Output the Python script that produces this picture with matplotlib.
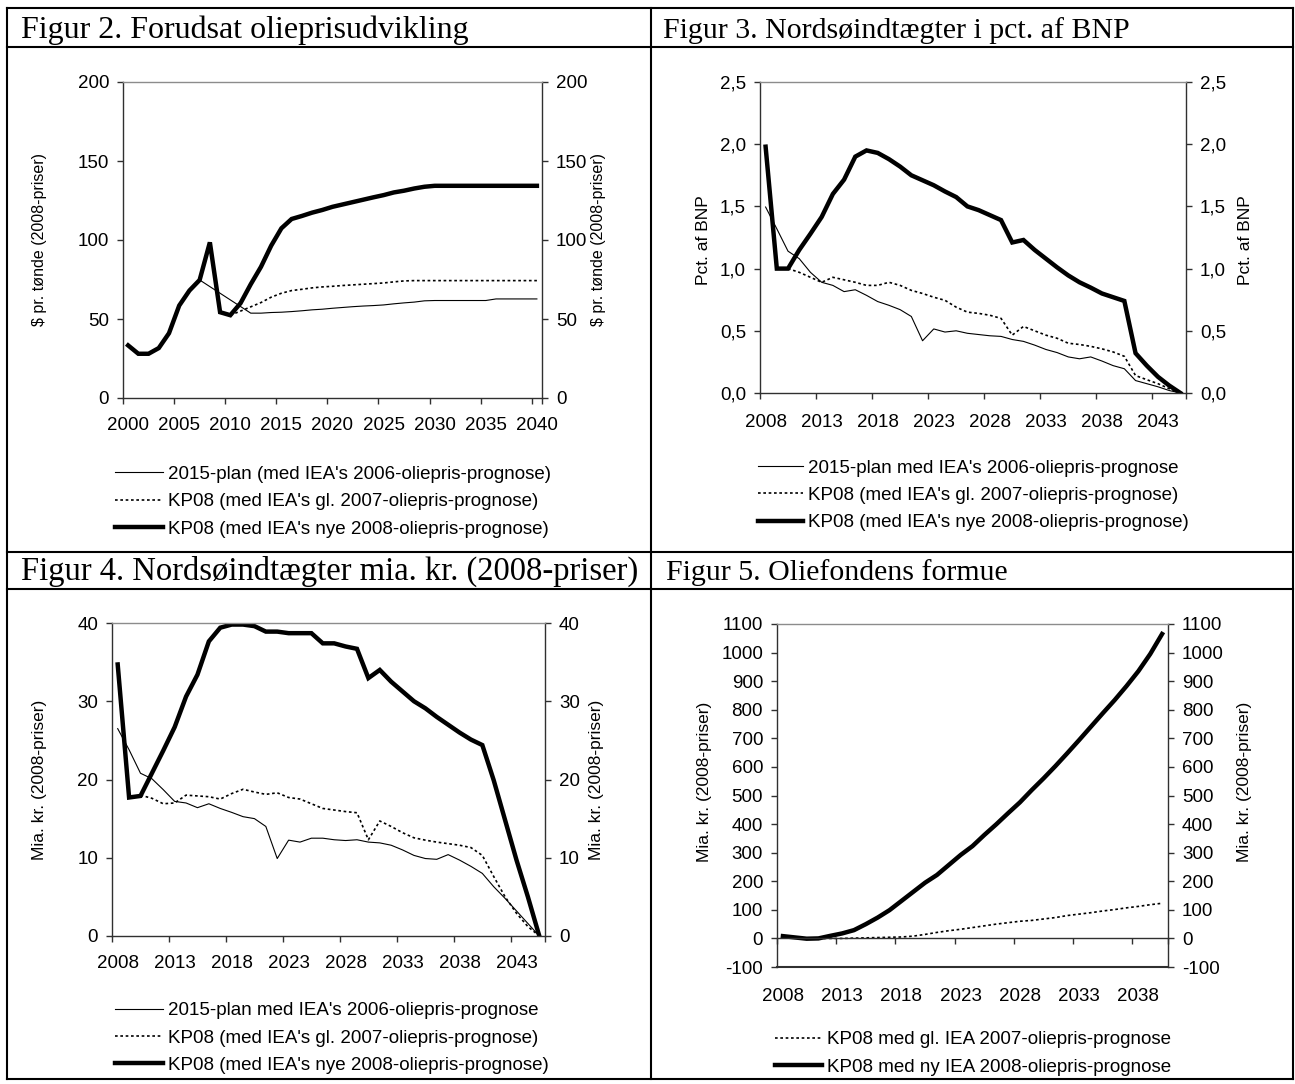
import matplotlib
matplotlib.use('Agg')
import matplotlib.pyplot as plt
from matplotlib.lines import Line2D
import numpy as np

W, H = 1295, 1084
plt.rcParams['font.family'] = ['Liberation Sans', 'DejaVu Sans']

# ---------------- data ----------------
# Figur 2 (oil price, $ per barrel, 2008 prices)
years_f2 = list(range(2000, 2041))
f2_new = [33.3, 28, 28, 31.6, 41, 58.5, 68, 74.7, 98.5, 54.3, 52.4, 60, 72, 83, 96.4,
          107.4, 113.3, 115.2, 117.3, 119, 121, 122.5, 124, 125.5, 127, 128.4, 130.1,
          131.2, 132.6, 133.7] + [134.3] * 11
years_f2_plan = list(range(2007, 2041))
f2_plan = [74.7, 70.5, 66.3, 62.1, 57.9, 53.7, 53.7, 54.1, 54.3, 54.7, 55.2, 55.8, 56.2,
           56.8, 57.3, 57.8, 58.2, 58.5, 58.9, 59.6, 60.2, 60.7, 61.5] + [61.7] * 6 + [62.7] * 5
years_f2_old = list(range(2010, 2041))
f2_old = [52.4, 55, 57.7, 60.4, 63.8, 66.3, 68, 68.8, 69.7, 70.3, 70.7, 71.2, 71.6, 72,
          72.4, 72.8, 73.5, 74.1] + [74.3] * 13

# Figur 3 (pct. of GDP)
years_f3 = list(range(2008, 2046))
f3_new = [1.98, 1.0, 1.0, 1.15, 1.28, 1.415, 1.60, 1.715, 1.90, 1.95, 1.93, 1.88, 1.82,
          1.75, 1.71, 1.67, 1.62, 1.575, 1.50, 1.47, 1.43, 1.39, 1.21, 1.23, 1.15, 1.08,
          1.01, 0.945, 0.89, 0.847, 0.80, 0.77, 0.74, 0.32, 0.22, 0.13, 0.06, 0.0]
f3_plan = [1.495, 1.32, 1.14, 1.08, 0.97, 0.89, 0.865, 0.815, 0.83, 0.785, 0.735, 0.705,
           0.67, 0.615, 0.42, 0.515, 0.49, 0.50, 0.48, 0.47, 0.46, 0.455, 0.43, 0.415,
           0.385, 0.35, 0.325, 0.29, 0.275, 0.29, 0.257, 0.22, 0.195, 0.10, 0.075, 0.05,
           0.02, 0.0]
years_f3_old = list(range(2010, 2046))
f3_old = [1.0, 0.97, 0.93, 0.89, 0.93, 0.91, 0.89, 0.865, 0.865, 0.89, 0.865, 0.825, 0.80,
          0.77, 0.745, 0.69, 0.65, 0.64, 0.625, 0.60, 0.465, 0.535, 0.50, 0.465, 0.44, 0.40,
          0.39, 0.375, 0.355, 0.33, 0.295, 0.14, 0.107, 0.075, 0.035, 0.0]

# Figur 4 (bn. DKK, 2008 prices)
years_f4 = list(range(2008, 2046))
f4_new = [34.7, 17.7, 17.9, 20.8, 23.7, 26.7, 30.6, 33.4, 37.65, 39.4, 39.8, 39.8, 39.6,
          38.9, 38.9, 38.7, 38.7, 38.7, 37.4, 37.4, 37.0, 36.7, 32.96, 34.0, 32.5, 31.25,
          30.0, 29.1, 28.0, 27.0, 26.0, 25.1, 24.4, 19.9, 14.8, 9.7, 5.0, 0.0]
f4_plan = [26.5, 23.8, 20.8, 20.1, 18.7, 17.2, 17.0, 16.4, 16.9, 16.3, 15.8, 15.25, 15.0,
           14.0, 9.9, 12.25, 12.0, 12.5, 12.5, 12.3, 12.2, 12.3, 12.0, 11.9, 11.6, 11.0,
           10.3, 9.9, 9.8, 10.4, 9.7, 8.9, 8.0, 6.3, 4.8, 3.2, 1.6, 0.0]
years_f4_old = list(range(2010, 2046))
f4_old = [18.0, 17.6, 16.9, 17.0, 18.0, 17.9, 17.8, 17.5, 18.2, 18.75, 18.4, 18.1, 18.3,
          17.7, 17.5, 16.9, 16.3, 16.1, 15.9, 15.75, 12.3, 14.7, 14.0, 13.2, 12.55, 12.25,
          12.0, 11.8, 11.6, 11.3, 10.3, 7.6, 5.0, 2.9, 1.2, 0.0]

# Figur 5 (oil fund, bn. DKK)
years_f5 = list(range(2008, 2041))
f5_new = [8, 3.5, -1, 0, 9, 17.5, 29, 50, 73, 99, 131, 163, 195, 222, 257, 292, 323, 362,
          399, 438, 476, 519, 560, 603, 648, 694, 741, 788, 834, 883, 935, 995, 1065]
years_f5_old = list(range(2011, 2041))
f5_old = [0, 0, 0, 1, 2, 3, 4, 5, 8, 14, 21, 27, 32, 38, 44, 50, 55, 60, 63, 68, 73, 80,
          85, 90, 96, 101, 107, 112, 118, 123]

# tick labels
yt_f2 = [0, 50, 100, 150, 200]
yt_f3 = [0.0, 0.5, 1.0, 1.5, 2.0, 2.5]
yt_f3_labels = ['0,0', '0,5', '1,0', '1,5', '2,0', '2,5']
yt_f4 = [0, 10, 20, 30, 40]
yt_f5 = list(range(-100, 1101, 100))

lab_plan_a = "2015-plan (med IEA's 2006-oliepris-prognose)"
lab_plan_b = "2015-plan med IEA's 2006-oliepris-prognose"
lab_old = "KP08 (med IEA's gl. 2007-oliepris-prognose)"
lab_new = "KP08 (med IEA's nye 2008-oliepris-prognose)"
lab5_old = "KP08 med gl. IEA 2007-oliepris-prognose"
lab5_new = "KP08 med ny IEA 2008-oliepris-prognose"

# ---------------- figure ----------------
fig = plt.figure(figsize=(W / 100, H / 100), dpi=100)

def fx(x):
    return x / W

def fy(y):
    return 1 - y / H

def axes_px(l, r, t, b):
    return fig.add_axes([fx(l), fy(b), (r - l) / W, (b - t) / H])

TH = 3.2      # thick
TN = 0.8      # thin
DOT = (0, (1.6, 1.6))
FS = 13.5
LFS = 13.5
AXC = '#303030'

def style(ax, first, last, label_years, yt, ytl, ylim, xpad):
    ax.set_xlim(first - 0.5, last + 0.5)
    ax.set_xticks(label_years)
    ax.set_xticklabels([str(y) for y in label_years])
    minor = list(np.arange(first - 0.5, last, 5)) + [last + 0.5]
    ax.set_xticks(minor, minor=True)
    ax.tick_params(axis='x', which='major', length=0, pad=xpad, labelsize=FS)
    ax.tick_params(axis='x', which='minor', length=4, width=1, direction='out', color=AXC)
    ax.set_ylim(*ylim)
    ax.set_yticks(yt)
    ax.set_yticklabels(ytl)
    ax.tick_params(axis='y', which='major', left=True, right=True, labelleft=True,
                   labelright=True, length=4, width=1, direction='out', pad=6,
                   labelsize=FS, color=AXC)
    for s in ['left', 'right', 'bottom']:
        ax.spines[s].set_color(AXC)
        ax.spines[s].set_linewidth(1)
    ax.spines['top'].set_color('#8c8c8c')
    ax.spines['top'].set_linewidth(1)

def legend(ax, handles, labels, x, y, hl):
    ax.legend(handles, labels, loc='center left',
              bbox_to_anchor=(fx(x), fy(y)), bbox_transform=fig.transFigure,
              frameon=False, fontsize=LFS, handlelength=hl, handletextpad=0.27,
              labelspacing=0.55, borderpad=0, borderaxespad=0)

# ---- Figur 2 ----
ax2 = axes_px(123, 542, 82, 398)
h_plan, = ax2.plot(years_f2_plan, f2_plan, color='black', lw=TN)
h_old, = ax2.plot(years_f2_old, f2_old, color='black', lw=1.2, ls=DOT)
h_new, = ax2.plot(years_f2, f2_new, color='black', lw=TH, solid_joinstyle='miter')
style(ax2, 2000, 2040, list(range(2000, 2041, 5)), yt_f2, [str(v) for v in yt_f2],
      (0, 200), 14)
legend(ax2, [h_plan, h_old, h_new], [lab_plan_a, lab_old, lab_new], 115, 501.5, 2.56)

# ---- Figur 3 ----
ax3 = axes_px(760, 1186, 82, 393)
h_plan, = ax3.plot(years_f3, f3_plan, color='black', lw=TN)
h_old, = ax3.plot(years_f3_old, f3_old, color='black', lw=1.2, ls=DOT)
h_new, = ax3.plot(years_f3, f3_new, color='black', lw=TH, solid_joinstyle='miter')
style(ax3, 2008, 2045, list(range(2008, 2044, 5)), yt_f3, yt_f3_labels, (0, 2.5), 15)
legend(ax3, [h_plan, h_old, h_new], [lab_plan_b, lab_old, lab_new], 758, 495.5, 2.4)

# ---- Figur 4 ----
ax4 = axes_px(112, 545, 623, 936)
h_plan, = ax4.plot(years_f4, f4_plan, color='black', lw=TN)
h_old, = ax4.plot(years_f4_old, f4_old, color='black', lw=1.2, ls=DOT)
h_new, = ax4.plot(years_f4, f4_new, color='black', lw=TH, solid_joinstyle='miter')
style(ax4, 2008, 2045, list(range(2008, 2044, 5)), yt_f4, [str(v) for v in yt_f4],
      (0, 40), 13.5)
legend(ax4, [h_plan, h_old, h_new], [lab_plan_b, lab_old, lab_new], 115, 1038, 2.56)

# ---- Figur 5 ----
ax5 = axes_px(777, 1168, 624, 967)
h_old, = ax5.plot(years_f5_old, f5_old, color='black', lw=1.2, ls=DOT)
h_new, = ax5.plot(years_f5, f5_new, color='black', lw=TH, solid_joinstyle='miter')
style(ax5, 2008, 2040, list(range(2008, 2039, 5)), yt_f5, [str(v) for v in yt_f5],
      (-100, 1100), 36)
ax5.spines['bottom'].set_position(('data', 0))
ax5.axhline(-100, color=AXC, lw=1.5, clip_on=False)
legend(ax5, [h_old, h_new], [lab5_old, lab5_new], 775, 1053.5, 2.5)

# ---- y axis labels ----
ylab = [("$ pr. tønde (2008-priser)", 40, 598, 239, 11.5),
        ("Pct. af BNP", 703, 1245, 240, 12.5),
        ("Mia. kr. (2008-priser)", 40, 597, 780, 12.5),
        ("Mia. kr. (2008-priser)", 705, 1245, 782, 12.5)]
for txt, xl, xr, yc, fsz in ylab:
    for xx in (xl, xr):
        fig.text(fx(xx), fy(yc), txt, rotation=90, ha='center', va='center', fontsize=fsz)

# ---- titles ----
TF = dict(family=['Liberation Serif', 'DejaVu Serif'], va='baseline')
fig.text(fx(21), fy(38), "Figur 2. Forudsat olieprisudvikling", fontsize=23, **TF)
fig.text(fx(663), fy(38), "Figur 3. Nordsøindtægter i pct. af BNP", fontsize=21.5, **TF)
fig.text(fx(21), fy(580), "Figur 4. Nordsøindtægter mia. kr. (2008-priser)", fontsize=23.5, **TF)
fig.text(fx(666), fy(580), "Figur 5. Oliefondens formue", fontsize=21.5, **TF)

# ---- table frame ----
LW = 1.5
def hline(y, x0=7, x1=1293):
    fig.add_artist(Line2D([fx(x0), fx(x1)], [fy(y), fy(y)], color='black', lw=LW))

def vline(x, y0=8, y1=1079):
    fig.add_artist(Line2D([fx(x), fx(x)], [fy(y0), fy(y1)], color='black', lw=LW))

for yy in (8, 47, 552, 589, 1079):
    hline(yy)
for xx in (7, 651, 1293):
    vline(xx)

fig.savefig('out.png', dpi=100)
